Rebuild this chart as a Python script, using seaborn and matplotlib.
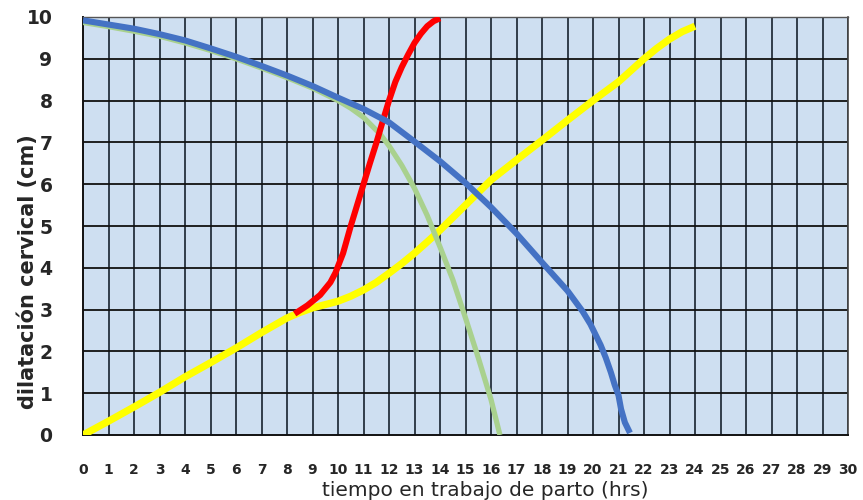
import matplotlib
matplotlib.use("Agg")
import matplotlib.pyplot as plt
import seaborn as sns
import pandas as pd

# Cervical dilation (cm) vs. hours of labour, four reference curves
yellow_t = [0, 1, 2, 3, 4, 5, 6, 7, 8, 8.5, 9, 9.5, 10, 10.5, 11, 11.5, 12, 12.5, 13, 13.5, 14, 15, 16, 17, 18, 19, 20, 21, 22, 22.5, 23, 23.5, 24]
yellow_d = [0, 0.33, 0.67, 1.02, 1.39, 1.73, 2.08, 2.45, 2.8, 2.93, 3.04, 3.12, 3.2, 3.32, 3.47, 3.65, 3.87, 4.1, 4.35, 4.62, 4.9, 5.5, 6.1, 6.58, 7.05, 7.53, 8.0, 8.45, 9.0, 9.25, 9.47, 9.65, 9.78]

green_t = [0, 1, 2, 3, 4, 5, 6, 7, 8, 9, 10, 10.5, 11, 11.65, 12, 12.5, 13, 13.5, 14, 14.5, 15, 15.5, 16, 16.35]
green_d = [9.87, 9.77, 9.66, 9.54, 9.38, 9.2, 9.0, 8.78, 8.55, 8.3, 8.0, 7.82, 7.6, 7.2, 6.92, 6.45, 5.9, 5.25, 4.5, 3.72, 2.8, 1.85, 0.85, 0.0]

red_t = [8.3, 8.8, 9.3, 9.7, 9.9, 10.2, 10.5, 11.0, 11.25, 11.5, 11.75, 12.0, 12.25, 12.5, 12.75, 13.0, 13.25, 13.5, 13.75, 14.0]
red_d = [2.9, 3.1, 3.35, 3.65, 3.88, 4.35, 5.0, 6.0, 6.5, 6.98, 7.5, 8.0, 8.45, 8.8, 9.1, 9.38, 9.6, 9.78, 9.9, 9.97]

blue_t = [0, 1, 2, 3, 4, 5, 6, 7, 8, 9, 10, 11, 12, 13, 14, 15, 16, 17, 18, 19, 19.3, 19.6, 19.9, 20.1, 20.3, 20.5, 20.7, 20.85, 21.0, 21.1, 21.25, 21.45]
blue_d = [9.92, 9.82, 9.72, 9.59, 9.44, 9.25, 9.05, 8.83, 8.6, 8.35, 8.07, 7.8, 7.48, 7.02, 6.55, 6.03, 5.45, 4.82, 4.13, 3.45, 3.2, 2.95, 2.65, 2.4, 2.15, 1.85, 1.5, 1.2, 0.95, 0.62, 0.3, 0.05]

x_ticks = list(range(0, 31))
y_ticks = list(range(0, 11))

series = [
    ("amarilla", yellow_t, yellow_d, "#FFFF00", 5.2),
    ("verde", green_t, green_d, "#A9D18E", 3.8),
    ("roja", red_t, red_d, "#FF0000", 4.4),
    ("azul", blue_t, blue_d, "#4472C4", 4.4),
]

sns.set_style("white")
fig = plt.figure(figsize=(8.63, 5.0), dpi=100)
ax = fig.add_axes([83 / 863, 1 - 435 / 500, (848 - 83) / 863, (435 - 17) / 500])
ax.set_facecolor("#CEDFF1")

for i, (name, t, d, color, lw) in enumerate(series):
    df = pd.DataFrame({"t": t, "d": d})
    sns.lineplot(data=df, x="t", y="d", ax=ax, color=color, linewidth=lw,
                 sort=False, estimator=None, zorder=3 + i,
                 solid_capstyle="butt", solid_joinstyle="round")

ax.set_xlim(0, 30)
ax.set_ylim(0, 10)
ax.set_xticks(x_ticks)
ax.set_yticks(y_ticks)
ax.set_xticklabels([str(v) for v in x_ticks], fontsize=10, fontweight="bold")
ax.set_yticklabels([str(v) for v in y_ticks], fontsize=13.5, fontweight="bold")

for v in x_ticks[1:]:
    ax.axvline(v, color="#25313d", linewidth=1.3, zorder=1)
for v in y_ticks[1:]:
    ax.axhline(v, color="#111111", linewidth=1.3, zorder=1)

ax.tick_params(axis="y", direction="out", length=8, width=1.2, color="#111111", pad=14)
ax.tick_params(axis="x", length=0, pad=20)

for side in ["left", "bottom"]:
    ax.spines[side].set_color("#111111")
    ax.spines[side].set_linewidth(1.4)
ax.spines["top"].set_color("#555555")
ax.spines["top"].set_linewidth(1.0)
ax.spines["right"].set_color("#444444")
ax.spines["right"].set_linewidth(1.2)

ax.set_xlabel("")
ax.set_ylabel("")
fig.text(485 / 863, 1 - 491 / 500, "tiempo en trabajo de parto (hrs)",
         fontsize=14.5, ha="center", va="center")
fig.text(28 / 863, 1 - 272 / 500, "dilatación cervical (cm)",
         fontsize=15, fontweight="bold", rotation=90, ha="center", va="center")

fig.savefig("out.png", dpi=100)
